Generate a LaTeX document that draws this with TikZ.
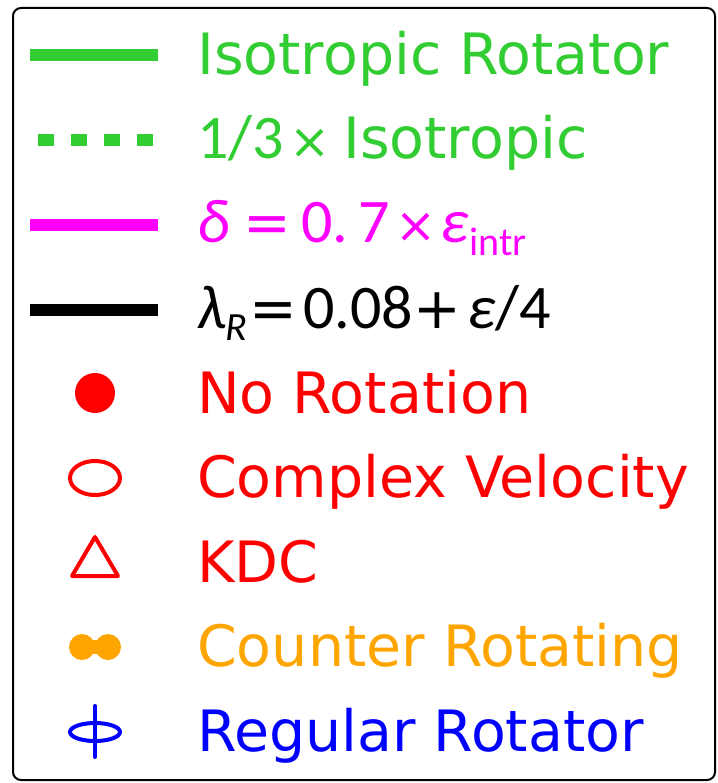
\documentclass[tikz,border=0pt]{standalone}
\usepackage{fontspec}
\setmainfont{DejaVu Sans}
\newfontfamily\mathfnt{Carlito}
\definecolor{limegreen}{RGB}{50,205,50}
\definecolor{mplorange}{RGB}{255,165,0}
\definecolor{mplmagenta}{RGB}{255,0,255}

\newcommand*{\txtx}{197}
\newcommand*{\mkx}{95}
\newcommand*{\lowidx}[1]{\raisebox{-0.2em}{\fontsize{40}{40}\selectfont #1}}
\newcommand*{\opsym}[1]{{\rmfamily\fontsize{57}{60}\selectfont #1}}
\newcommand*{\timesym}{{\rmfamily\fontsize{49}{60}\selectfont ×}}

\begin{document}
\begin{tikzpicture}
[
	x=1pt,
	y=-1pt,
	entry/.style={anchor=base west,inner sep=0pt,font=\fontsize{57}{60}\selectfont},
	mathentry/.style={anchor=base west,inner sep=0pt,font=\mathfnt\fontsize{62}{64}\selectfont},
	legline/.style={line width=12pt},
	legsym/.style={line width=4pt,line join=round,line cap=round}
]

	% frame
	\useasboundingbox (0,0) rectangle (717,783);
	\draw[line width=2pt,rounded corners=8pt] (13,8) rectangle (715,780);

	% lines
	\draw[legline,limegreen] (30,55) -- (158,55);
	\draw[legline,limegreen,dash pattern=on 16pt off 17pt] (38,140) -- (154,140);
	\draw[legline,mplmagenta] (30,225) -- (158,225);
	\draw[legline,black] (30,310) -- (158,310);

	% markers
	\fill[red] (\mkx,393) circle[radius=20];
	\draw[legsym,red] (\mkx,478) ellipse[x radius=25,y radius=17];
	\draw[legsym,red] (\mkx,537) -- (118,576) -- (72,576) -- cycle;
	\fill[mplorange] (82,647) circle[radius=13];
	\fill[mplorange] (108,647) circle[radius=13];
	\fill[mplorange] (82,640) rectangle (108,654);
	\draw[legsym,blue] (\mkx,732) ellipse[x radius=25,y radius=9];
	\draw[legsym,blue] (\mkx,706) -- (\mkx,757);

	% labels
	\node[entry,limegreen] (iso) at (\txtx,75) {Isotropic Rotator};
	\node[mathentry,limegreen] (third) at (\txtx,159) {1/3\kern6pt\timesym};
	\node[entry,limegreen] (thirdiso) at (343,159) {Isotropic};
	\node[mathentry,mplmagenta] (delta) at (\txtx,243)
	  {\itshape δ\upshape\kern14pt\opsym{=}\kern10pt 0.\kern10pt7\kern6pt\timesym\kern4pt\itshape ε\upshape\lowidx{intr}};
	\node[mathentry,black] (lambda) at (\txtx,328)
	  {\itshape λ\lowidx{R}\upshape\kern2pt\opsym{=}\kern6pt 0.08\opsym{+}\kern6pt\itshape ε\upshape/4};
	\node[entry,red] (norot) at (\txtx,413) {No Rotation};
	\node[entry,red] (cplx) at (\txtx,497) {Complex Velocity};
	\node[entry,red] (kdc) at (\txtx,582) {KDC};
	\node[entry,mplorange] (counter) at (\txtx,666) {Counter Rotating};
	\node[entry,blue] (regular) at (\txtx,751) {Regular Rotator};

\end{tikzpicture}
\end{document}
